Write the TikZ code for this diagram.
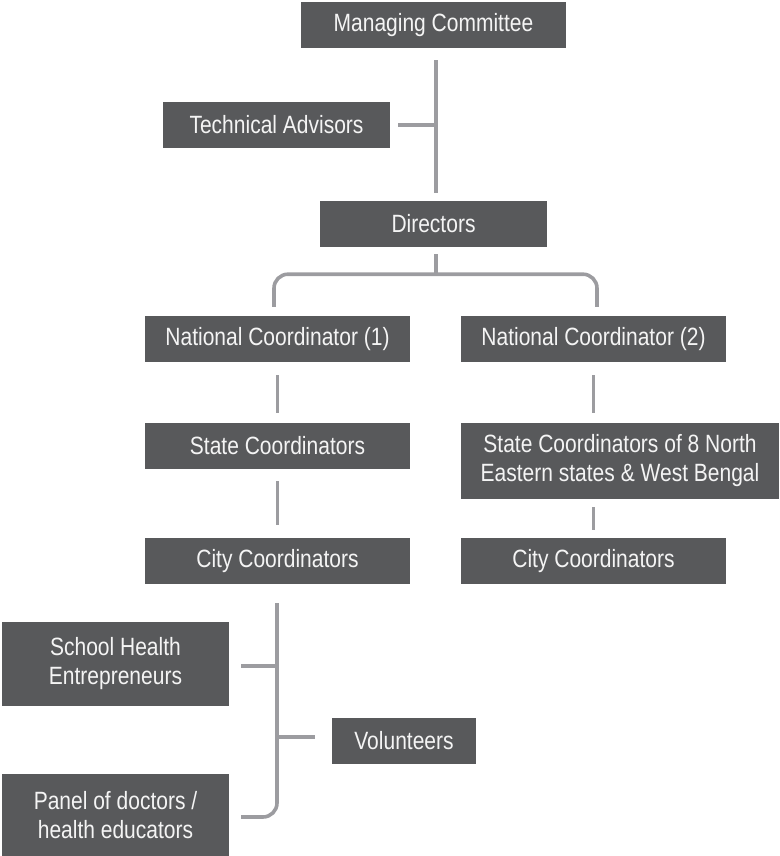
\documentclass[tikz,border=0pt]{standalone}
\usepackage{fontspec}
\setmainfont{Liberation Sans}[FakeStretch=0.84]
\usetikzlibrary{calc}
\definecolor{boxgray}{HTML}{58595B}
\definecolor{linegray}{HTML}{9C9CA0}
\definecolor{boxtext}{HTML}{F4F4F4}
\tikzset{
  orgbox/.style={fill=boxgray, text=boxtext, inner sep=0pt, align=center,
    minimum height=46pt, font=\fontsize{25}{29}\selectfont},
  conn/.style={draw=linegray, line width=3.6pt},
}
\begin{document}
\begin{tikzpicture}[x=1pt, y=-1pt]
\useasboundingbox (0,0) rectangle (779,856);

% boxes
\node[orgbox, minimum width=265pt] (mc)  at (433.5,25)   {Managing Committee};
\node[orgbox, minimum width=227pt] (ta)  at (276.5,125)  {Technical Advisors};
\node[orgbox, minimum width=227pt] (dir) at (433.5,224)  {Directors};
\node[orgbox, minimum width=265pt] (nc1) at (277.5,339)  {National Coordinator (1)};
\node[orgbox, minimum width=265pt] (nc2) at (593.5,339)  {National Coordinator (2)};
\node[orgbox, minimum width=265pt] (sc1) at (277.5,446)  {State Coordinators};
\node[orgbox, minimum width=318pt, minimum height=76pt] (sc2) at (620,461)
  {State Coordinators of 8 North\\Eastern states \& West Bengal};
\node[orgbox, minimum width=265pt] (cc1) at (277.5,561)  {City Coordinators};
\node[orgbox, minimum width=265pt] (cc2) at (593.5,561)  {City Coordinators};
\node[orgbox, minimum width=227pt, minimum height=84pt] (she) at (115.5,664)
  {School Health\\Entrepreneurs};
\node[orgbox, minimum width=144pt] (vol) at (404,740.5)  {Volunteers};
\node[orgbox, minimum width=227pt, minimum height=82pt] (pan) at (115.5,815)
  {Panel of doctors /\\health educators};

% top spine with the advisors branch
\coordinate (spine) at ([xshift=2.5pt]mc.south);
\draw[conn] ([yshift=-12pt]spine) -- ([xshift=2.5pt,yshift=8pt]dir.north);
\draw[conn] ([xshift=8pt]ta.east) -- (ta.east -| spine);

% directors to the two national coordinators
\draw[conn] ([xshift=2.5pt,yshift=-7pt]dir.south) -- ([xshift=2.5pt,yshift=-28pt]dir.south);
\draw[conn, rounded corners=14pt]
  ([xshift=-3.5pt,yshift=9pt]nc1.north) |- ([yshift=-27pt]dir.south)
  -| ([xshift=3.5pt,yshift=9pt]nc2.north);

% left column
\draw[conn] ([yshift=-13pt]nc1.south) -- ([yshift=10pt]sc1.north);
\draw[conn] ([yshift=-12pt]sc1.south) -- ([yshift=13pt]cc1.north);

% right column
\draw[conn] ([yshift=-13pt]nc2.south) -- ([yshift=10pt]nc2.south |- sc2.north);
\draw[conn] ([yshift=-8pt]cc2.north |- sc2.south) -- ([yshift=8pt]cc2.north);

% field teams under the city coordinators
\coordinate (spineb) at ([xshift=-0.5pt]cc1.south);
\draw[conn, rounded corners=14pt]
  ([yshift=-19pt]spineb) |- ([xshift=12pt,yshift=-2pt]pan.east);
\draw[conn] ([xshift=12pt,yshift=-2pt]she.east) -- ([yshift=-2pt]she.east -| spineb);
\draw[conn] ([xshift=-17pt,yshift=3.5pt]vol.west) -- ([yshift=3.5pt]vol.west -| spineb);
\end{tikzpicture}
\end{document}
